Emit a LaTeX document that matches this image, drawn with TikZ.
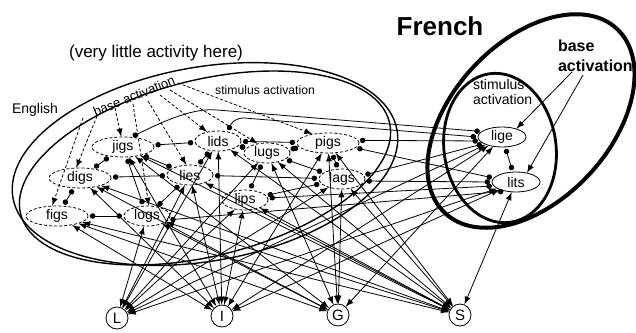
\documentclass[tikz,border=0pt]{standalone}
\usepackage{fontspec}
\setmainfont{Liberation Sans}
\usetikzlibrary{arrows,arrows.meta,shapes.geometric}

\begin{document}
\begin{tikzpicture}[x=0.5pt,y=-0.5pt,>=latex,
  eword/.style={draw,dash pattern=on 1.5pt off 1pt,ellipse,minimum width=23pt,minimum height=10pt,inner sep=0pt,font=\fontsize{7}{8}\selectfont},
  wide/.style={minimum width=31pt},
  fword/.style={draw,ellipse,minimum width=24pt,minimum height=10pt,inner sep=0pt,font=\fontsize{7}{8}\selectfont},
  letter/.style={draw,circle,minimum size=11pt,inner sep=0pt,font=\fontsize{7.5}{8}\selectfont},
  inhib/.style={{Circle[length=2.7pt]}-{Circle[length=2.7pt]},thin,shorten <=0.8pt,shorten >=0.8pt},
  excit/.style={<->,thin},
  baseact/.style={->,thin,dash pattern=on 1.5pt off 1pt}]
\useasboundingbox (0,0) rectangle (636,332);

\draw [line width=0.7pt, rotate around={10:(205,164)}] (205,164) ellipse [x radius=97.5pt, y radius=48.5pt];
\draw [line width=0.7pt, rotate around={14:(205,168)}] (205,168) ellipse [x radius=95pt, y radius=44pt];
\draw [line width=2pt, rotate around={47:(531,121)}] (531,121) ellipse [x radius=63pt, y radius=39.5pt];
\draw [line width=1.4pt, rotate around={8:(500,148)}] (500,148) ellipse [x radius=28pt, y radius=37.5pt];

\node (french) at (440,26) {\fontsize{13}{15}\selectfont\bfseries French};
\node (frbase) [anchor=west, align=left, font=\fontsize{8}{10}\selectfont\bfseries] at (551,56) {base\\activation};
\node (frstim) [anchor=west, align=left, font=\fontsize{7}{7.5}\selectfont] at (466,92) {stimulus\\activation};
\node (little) [font=\fontsize{8.5}{10}\selectfont] at (156,53) {(very little activity here)};
\node (english) [font=\fontsize{7}{8}\selectfont] at (35,110) {English};
\node (enbase) [rotate=22, font=\fontsize{6.5}{8}\selectfont] at (134,96) {base activation};
\node (enstim) [font=\fontsize{6.1}{8}\selectfont] at (265,90) {stimulus activation};

\node (figs) [eword, wide] at (57,216) {figs};
\node (digs) [eword, wide] at (80,178) {digs};
\node (jigs) [eword, wide] at (123,147) {jigs};
\node (logs) [eword] at (147,216) {logs};
\node (lies) [eword] at (190,175) {lies};
\node (lids) [eword] at (218,141) {lids};
\node (lugs) [eword] at (267,153) {lugs};
\node (pigs) [eword, wide] at (328,143) {pigs};
\node (lags) [eword] at (342,179) {lags};
\node (lips) [eword] at (245,200) {lips};

\node (lige) [fword] at (502,137) {lige};
\node (lits) [fword] at (516,182) {lits};

\node (L) [letter] at (117,318) {L};
\node (I) [letter] at (222,316) {I};
\node (G) [letter] at (338,315) {G};
\node (S) [letter] at (460,315) {S};

\coordinate (ba1) at (83,118);
\coordinate (ba2) at (97,116);
\coordinate (ba3) at (115,108);
\coordinate (ba4) at (133,104);
\coordinate (ba5) at (148,101);
\coordinate (ba6) at (160,95);
\coordinate (sa1) at (170,90);
\coordinate (sa2) at (178,83);
\coordinate (fb1) at (572,72);
\coordinate (fb2) at (583,75);

\draw [baseact] (ba1) -- (figs.115);
\draw [baseact] (ba2) -- (digs.110);
\draw [baseact] (ba3) -- (jigs.100);
\draw [baseact] (ba4) -- (logs.80);
\draw [baseact] (ba5) -- (lies.110);
\draw [baseact] (ba6) -- (lids.140);
\draw [baseact] (sa1) -- (lugs.135);
\draw [baseact] (sa2) -- (pigs.150);
\draw [thin, ->] (fb1) -- (lige.30);
\draw [thin, ->] (fb2) -- (lits.40);

\draw [inhib] (figs) -- (digs);
\draw [inhib] (figs) -- (logs);
\draw [inhib] (digs) -- (jigs);
\draw [inhib] (digs) -- (lies);
\draw [inhib] (jigs) -- (lids);
\draw [inhib] (jigs) -- (lies);
\draw [inhib] (jigs) -- (logs);
\draw [inhib] (lies) -- (lids);
\draw [inhib] (lies) -- (logs);
\draw [inhib] (lies) -- (lags);
\draw [inhib] (lids) -- (pigs);
\draw [inhib] (lids) -- (lugs);
\draw [inhib] (lugs) -- (pigs);
\draw [inhib] (lugs) -- (lags);
\draw [inhib] (lugs) -- (lips);
\draw [inhib] (pigs) -- (lags);
\draw [inhib] (lips) -- (lags);
\draw [inhib] (lige) -- (lits);

\draw [inhib] (jigs.50) .. controls (170,118) and (195,108) .. (217,110) -- (lige.165);
\draw [inhib] (lids.45) .. controls (232,122) and (236,118) .. (244,118) -- (lige.180);
\draw [inhib] (pigs.5) -- (lige.190);
\draw [inhib] (pigs.-10) -- (lits.170);
\draw [inhib] (lags.10) -- (lige.200);
\draw [inhib] (lags.-5) -- (lits.180);
\draw [inhib] (lips.5) -- (lits.190);
\draw [inhib] (logs.-10) -- (lits.220);

\draw [excit] (L) -- (lids);
\draw [excit] (L) -- (lies);
\draw [excit] (L) -- (lugs);
\draw [excit] (L) -- (lags);
\draw [excit] (L) -- (lips);
\draw [excit] (L) -- (logs);
\draw [excit] (L) -- (lige);
\draw [excit] (L) -- (lits);
\draw [excit] (I) -- (figs);
\draw [excit] (I) -- (digs);
\draw [excit] (I) -- (jigs);
\draw [excit] (I) -- (pigs);
\draw [excit] (I) -- (lids);
\draw [excit] (I) -- (lies);
\draw [excit] (I) -- (lips);
\draw [excit] (I) -- (lige);
\draw [excit] (I) -- (lits);
\draw [excit] (G) -- (figs);
\draw [excit] (G) -- (digs);
\draw [excit] (G) -- (jigs);
\draw [excit] (G) -- (pigs);
\draw [excit] (G) -- (lugs);
\draw [excit] (G) -- (lags);
\draw [excit] (G) -- (logs);
\draw [excit] (G) -- (lige);
\draw [excit] (S) -- (figs);
\draw [excit] (S) -- (digs);
\draw [excit] (S) -- (jigs);
\draw [excit] (S) -- (pigs);
\draw [excit] (S) -- (lugs);
\draw [excit] (S) -- (lags);
\draw [excit] (S) -- (logs);
\draw [excit] (S) -- (lids);
\draw [excit] (S) -- (lies);
\draw [excit] (S) -- (lips);
\draw [excit] (S) -- (lits);
\end{tikzpicture}
\end{document}
